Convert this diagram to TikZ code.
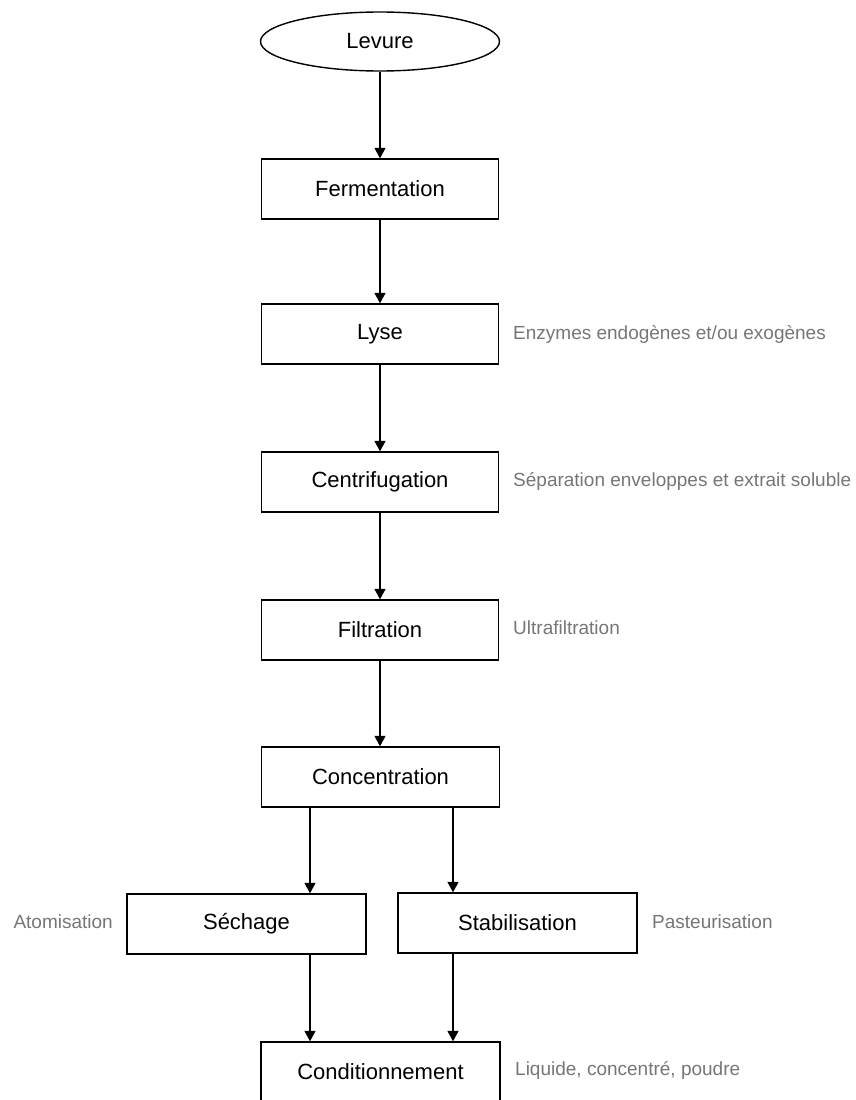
\documentclass[tikz,border=0pt]{standalone}
\usepackage{fontspec}
\setmainfont{Liberation Sans}
\usetikzlibrary{shapes.geometric,arrows.meta}
\definecolor{notegray}{RGB}{118,118,118}
\tikzset{
    process-box/.style = {draw=black, fill=white, line width=1.4pt, rectangle, minimum width=237pt, minimum height=60pt, inner sep=0pt, font=\fontsize{22}{26}\selectfont},
    start-ellipse/.style = {draw=black, fill=white, line width=1.4pt, ellipse, minimum width=239pt, minimum height=59pt, inner sep=0pt, font=\fontsize{22}{26}\selectfont},
    side-note/.style = {text=notegray, inner sep=0pt, font=\fontsize{19}{23}\selectfont},
    flow-arrow/.style = {-{Triangle[length=10.5pt,width=11pt]}, line width=1.6pt},
}

\begin{document}
\begin{tikzpicture}[x=1pt,y=-1pt]
\useasboundingbox (0,0) rectangle (855,1100);
% main chain
\node[start-ellipse] (levure) at (380,41.5) {Levure};
\node[process-box] (fermentation) at (380,189) {Fermentation};
\node[process-box] (lyse) at (380,334) {Lyse};
\node[process-box] (centrifugation) at (380,482) {Centrifugation};
\node[process-box] (filtration) at (380,630) {Filtration};
\node[process-box, minimum width=238pt] (concentration) at (380.5,777) {Concentration};
\node[process-box, minimum width=239pt] (sechage) at (246.5,924) {Séchage};
\node[process-box, minimum width=239pt] (stabilisation) at (517.5,923) {Stabilisation};
\node[process-box, minimum width=239pt] (conditionnement) at (380.5,1072) {Conditionnement};

% side notes
\node[side-note, anchor=west] (note-lyse) at (513,334) {Enzymes endogènes et/ou exogènes};
\node[side-note, anchor=west] (note-centri) at (513,481) {Séparation enveloppes et extrait soluble};
\node[side-note, anchor=west] (note-filtr) at (513,628) {Ultrafiltration};
\node[side-note, anchor=east] (note-sechage) at (113,922) {Atomisation};
\node[side-note, anchor=west] (note-stab) at (652,922) {Pasteurisation};
\node[side-note, anchor=west] (note-cond) at (515,1070) {Liquide, concentré, poudre};

% arrows
\draw[flow-arrow] (levure) -- (fermentation);
\draw[flow-arrow] (fermentation) -- (lyse);
\draw[flow-arrow] (lyse) -- (centrifugation);
\draw[flow-arrow] (centrifugation) -- (filtration);
\draw[flow-arrow] (filtration) -- (filtration |- concentration.north);
\coordinate (left-branch) at (310,0);
\coordinate (right-branch) at (453,0);
\draw[flow-arrow] (concentration.south -| left-branch) -- (sechage.north -| left-branch);
\draw[flow-arrow] (concentration.south -| right-branch) -- (stabilisation.north -| right-branch);
\draw[flow-arrow] (sechage.south -| left-branch) -- (conditionnement.north -| left-branch);
\draw[flow-arrow] (stabilisation.south -| right-branch) -- (conditionnement.north -| right-branch);
\end{tikzpicture}
\end{document}
